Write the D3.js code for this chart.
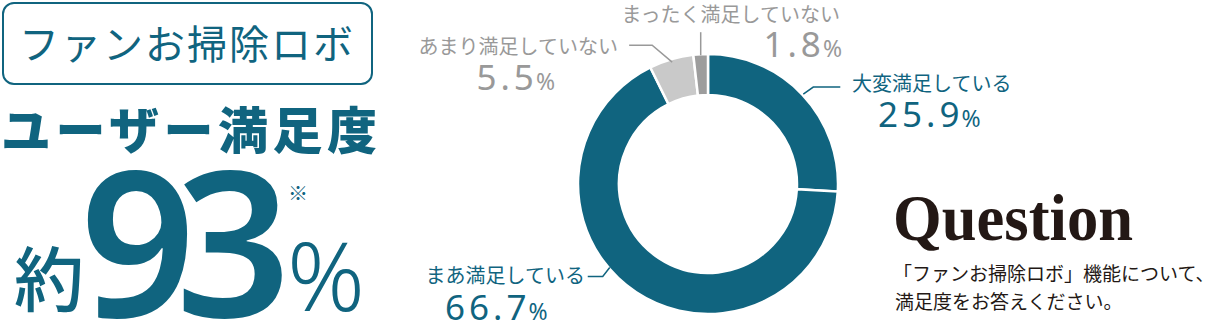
<!DOCTYPE html>
<html>
<head>
<meta charset="utf-8">
<script src="https://cdn.jsdelivr.net/npm/d3@7"></script>
<style>
  body { margin: 0; background: #fff; }
  text { font-family: "Noto Sans CJK JP", "Noto Sans", sans-serif; }
</style>
</head>
<body>
<div class="chart"></div>
<script>
// data
var categories = ["大変満足している", "まあ満足している", "あまり満足していない", "まったく満足していない"];
var values = [25.9, 66.7, 5.5, 1.8];
var sliceColors = ["#10647f", "#10647f", "#c9c9c9", "#9d9d9d"];
var labelColors = ["#10647f", "#10647f", "#999999", "#999999"];

var svgWidth = 1222;
var svgHeight = 323;
var teal = "#10647f";

var svg = d3.select(".chart")
  .append("svg")
  .attr("width", svgWidth)
  .attr("height", svgHeight);

// left panel
svg.append("rect")
  .attr("x", 3).attr("y", 3)
  .attr("width", 369).attr("height", 81)
  .attr("rx", 11)
  .attr("fill", "none")
  .attr("stroke", teal)
  .attr("stroke-width", 2);

svg.append("text")
  .attr("x", 187).attr("y", 59)
  .attr("text-anchor", "middle")
  .style("font-size", "40px")
  .style("letter-spacing", "2px")
  .style("fill", teal)
  .text("ファンお掃除ロボ");

svg.append("text")
  .attr("x", 1).attr("y", 149)
  .style("font-size", "50px")
  .style("font-weight", 900)
  .style("letter-spacing", "4.5px")
  .style("fill", teal)
  .text("ユーザー満足度");

svg.append("text")
  .attr("x", 14).attr("y", 306)
  .style("font-size", "70px")
  .style("font-weight", 500)
  .style("fill", teal)
  .text("約");

svg.append("text")
  .attr("x", 80).attr("y", 317)
  .style("font-family", "'Noto Sans', sans-serif")
  .style("font-size", "202px")
  .style("font-weight", 600)
  .style("letter-spacing", "-20px")
  .style("fill", teal)
  .text("93");

svg.append("text")
  .attr("x", 287).attr("y", 311)
  .style("font-family", "'Noto Sans', sans-serif")
  .style("font-size", "96px")
  .style("font-weight", 300)
  .style("fill", teal)
  .text("%");

svg.append("text")
  .attr("x", 288).attr("y", 201)
  .style("font-size", "20px")
  .style("fill", teal)
  .text("※");

// donut
var cx = 708, cy = 184, outerR = 130, innerR = 89;
var g = svg.append("g").attr("transform", `translate(${cx}, ${cy})`);

var pie = d3.pie().sort(null).value(d => d);
var arcs = pie(values);
var arc = d3.arc().innerRadius(innerR).outerRadius(outerR);

g.selectAll("path")
  .data(arcs)
  .enter()
  .append("path")
  .attr("d", arc)
  .attr("fill", (d, i) => sliceColors[i])
  .attr("stroke", "#fff")
  .attr("stroke-width", 2.5);

// label layout (annotation only)
var labelLayout = [
  { at: 0.5, r: 131, bend: [[10, -7], [37, -7]], name: [852, 91, "start"], pct: [878, 127, "start"] },
  { at: 0.567, r: 129, bend: [[-7, 9], [-22, 9]], name: [585, 283, "end"], pct: [445, 320, "start"] },
  { at: 0.5, r: 127, bend: [[-20, -17], [-43, -17]], name: [618, 54, "end"], pct: [555, 90, "end"] },
  { at: 0.5, r: 129, bend: [[0, -23]], name: [840, 22, "end"], pct: [842, 57, "end"] }
];

arcs.forEach(function(d, i) {
  var lay = labelLayout[i];
  var a = d.startAngle + (d.endAngle - d.startAngle) * lay.at;
  var sx = cx + lay.r * Math.sin(a);
  var sy = cy - lay.r * Math.cos(a);
  var pts = [[sx, sy]].concat(lay.bend.map(p => [sx + p[0], sy + p[1]]));
  svg.append("path")
    .attr("d", d3.line()(pts))
    .attr("fill", "none")
    .attr("stroke", labelColors[i])
    .attr("stroke-width", 1.5);

  svg.append("text")
    .attr("x", lay.name[0]).attr("y", lay.name[1])
    .attr("text-anchor", lay.name[2])
    .style("font-size", "20px")
    .style("fill", labelColors[i])
    .text(categories[i]);

  var t = svg.append("text")
    .attr("x", lay.pct[0]).attr("y", lay.pct[1])
    .attr("text-anchor", lay.pct[2])
    .style("font-family", "'Noto Sans', sans-serif")
    .style("fill", labelColors[i]);
  t.append("tspan")
    .style("font-size", "35px")
    .style("letter-spacing", "4px")
    .text(values[i].toFixed(1));
  t.append("tspan")
    .attr("dx", -2)
    .style("font-size", "23px")
    .text("%");
});

// question
svg.append("text")
  .attr("x", 893).attr("y", 240)
  .attr("textLength", 240)
  .attr("lengthAdjust", "spacingAndGlyphs")
  .style("font-family", "'Liberation Serif', serif")
  .style("font-size", "66px")
  .style("font-weight", 700)
  .style("fill", "#231815")
  .text("Question");

svg.append("text")
  .attr("x", 893).attr("y", 281)
  .style("font-size", "19px")
  .style("fill", "#231815")
  .text("「ファンお掃除ロボ」機能について、");

svg.append("text")
  .attr("x", 895).attr("y", 309)
  .style("font-size", "19px")
  .style("fill", "#231815")
  .text("満足度をお答えください。");
</script>
</body>
</html>
